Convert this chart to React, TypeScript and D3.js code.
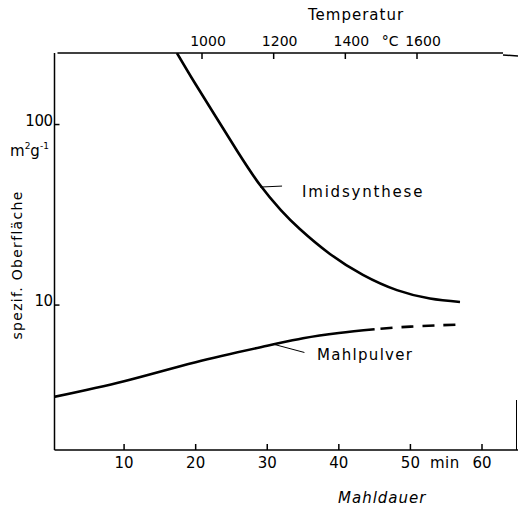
import React from "react";
import * as d3 from "d3";

// Imidsynthese: specific surface vs temperature (°C, m²/g)
const imidTemp = [930, 980, 1039, 1100, 1162, 1220, 1273, 1357, 1449, 1544, 1636, 1720];
const imidSurface = [249, 169.8, 110, 70.4, 46.2, 33.6, 26.4, 19.2, 14.7, 12.1, 10.87, 10.4];

// Mahlpulver: specific surface vs milling time (min, m²/g)
const mahlTime = [0, 10, 20, 30, 35, 40, 45, 50, 57];
const mahlSurface = [3.09, 3.79, 4.83, 5.95, 6.55, 7.0, 7.35, 7.6, 7.8];
const mahlDashedFrom = 45;

const timeTicks = [10, 20, 30, 40, 50, 60];
const tempTicks = [1000, 1200, 1400, 1600];
const surfaceTicks = [10, 100];

const W = 518;
const H = 509;
const FONT = "DejaVu Sans";

export default function App() {
  const xTime = d3.scaleLinear().domain([0, 60]).range([52.5, 482]);
  const xTemp = d3.scaleLinear().domain([1000, 1600]).range([202, 417]);
  const y = d3.scaleLog().domain([1.575, 249]).range([450, 53]);

  const top = y.range()[1];
  const bottom = y.range()[0];
  const leftX = xTime(0) + 2;

  const imidPts: [number, number][] = imidTemp.map((t, i) => [xTemp(t), y(imidSurface[i])]);
  const mahlAll = mahlTime.map((t, i) => ({ t, v: mahlSurface[i] }));
  const mahlSolid: [number, number][] = mahlAll
    .filter((d) => d.t <= mahlDashedFrom)
    .map((d) => [xTime(d.t), y(d.v)]);
  const mahlDash: [number, number][] = mahlAll
    .filter((d) => d.t >= mahlDashedFrom)
    .map((d) => [xTime(d.t), y(d.v)]);

  const line = d3.line().curve(d3.curveNatural);

  const imidLeader = imidPts[4];
  const mahlLeaderStart: [number, number] = [xTime(31), y(6.05)];

  return (
    <svg width={W} height={H} style={{ position: "absolute", left: 0, top: 0 }}>
      <rect width={W} height={H} fill="#fff" />
      <g stroke="#000" fill="none" strokeWidth={1.5}>
        {/* frame */}
        <line x1={leftX} y1={top} x2={leftX} y2={bottom} />
        <line x1={leftX} y1={bottom} x2={W} y2={bottom} />
        <line x1={leftX + 3} y1={top} x2={503} y2={top} />
        <line x1={503} y1={top + 2} x2={W} y2={top + 3} />
        <line x1={W - 1.5} y1={400} x2={W - 1.5} y2={bottom} strokeWidth={1} />
        {/* bottom ticks */}
        {timeTicks.map((t) => (
          <line key={"bt" + t} x1={xTime(t)} y1={bottom} x2={xTime(t)} y2={bottom - 6} />
        ))}
        {/* top ticks */}
        {tempTicks.map((t) => (
          <line key={"tt" + t} x1={xTemp(t)} y1={top} x2={xTemp(t)} y2={top + 6} />
        ))}
        {/* left ticks */}
        {surfaceTicks.map((v) => (
          <line key={"lt" + v} x1={leftX} y1={y(v)} x2={leftX + 5} y2={y(v)} />
        ))}
      </g>

      <defs>
        <clipPath id="plot">
          <rect x={leftX} y={top} width={W - leftX} height={bottom - top} />
        </clipPath>
      </defs>
      <g clipPath="url(#plot)" fill="none" stroke="#000" strokeWidth={2.6} strokeLinecap="butt">
        <path d={line(imidPts) || ""} />
        <path d={line(mahlSolid) || ""} />
        <path d={line(mahlDash) || ""} strokeDasharray="12 9" strokeDashoffset={-6} />
      </g>

      {/* leaders */}
      <g stroke="#000" strokeWidth={1}>
        <line x1={imidLeader[0]} y1={imidLeader[1] + 2} x2={imidLeader[0] + 22} y2={imidLeader[1] + 1} />
        <line x1={mahlLeaderStart[0]} y1={mahlLeaderStart[1]} x2={mahlLeaderStart[0] + 30} y2={mahlLeaderStart[1] + 8} />
      </g>

      <g fontFamily={FONT} fill="#000">
        <text x={302} y={197} fontSize={15} letterSpacing={1.8}>Imidsynthese</text>
        <text x={317} y={360} fontSize={15} letterSpacing={1.3}>Mahlpulver</text>

        {/* bottom tick labels */}
        {timeTicks.map((t) => (
          <text key={"bl" + t} x={xTime(t)} y={468} fontSize={15} textAnchor="middle">{t}</text>
        ))}
        <text x={xTime(54.8)} y={468} fontSize={15} textAnchor="middle" letterSpacing={0.5}>min</text>
        <text x={338} y={503} fontSize={15} fontStyle="italic" letterSpacing={1}>Mahldauer</text>

        {/* top tick labels */}
        {tempTicks.map((t) => (
          <text key={"tl" + t} x={xTemp(t) + 6} y={46} fontSize={14} textAnchor="middle">{t}</text>
        ))}
        <text x={xTemp(1525)} y={46} fontSize={14} textAnchor="middle">°C</text>
        <text x={308} y={20} fontSize={15} letterSpacing={1}>Temperatur</text>

        {/* left tick labels */}
        {surfaceTicks.map((v) => (
          <text key={"ll" + v} x={leftX - 2} y={y(v) + 1} fontSize={15} textAnchor="end" letterSpacing={-0.5}>{v}</text>
        ))}
        <text x={10} y={156} fontSize={15}>
          m<tspan fontSize={9} dy={-7}>2</tspan><tspan fontSize={15} dy={7}>g</tspan><tspan fontSize={9} dy={-7}>-1</tspan>
        </text>
        <text
          transform={`translate(22, 265) rotate(-90)`}
          fontSize={14}
          textAnchor="middle"
          letterSpacing={1.3}
        >
          spezif. Oberfläche
        </text>
      </g>
    </svg>
  );
}
